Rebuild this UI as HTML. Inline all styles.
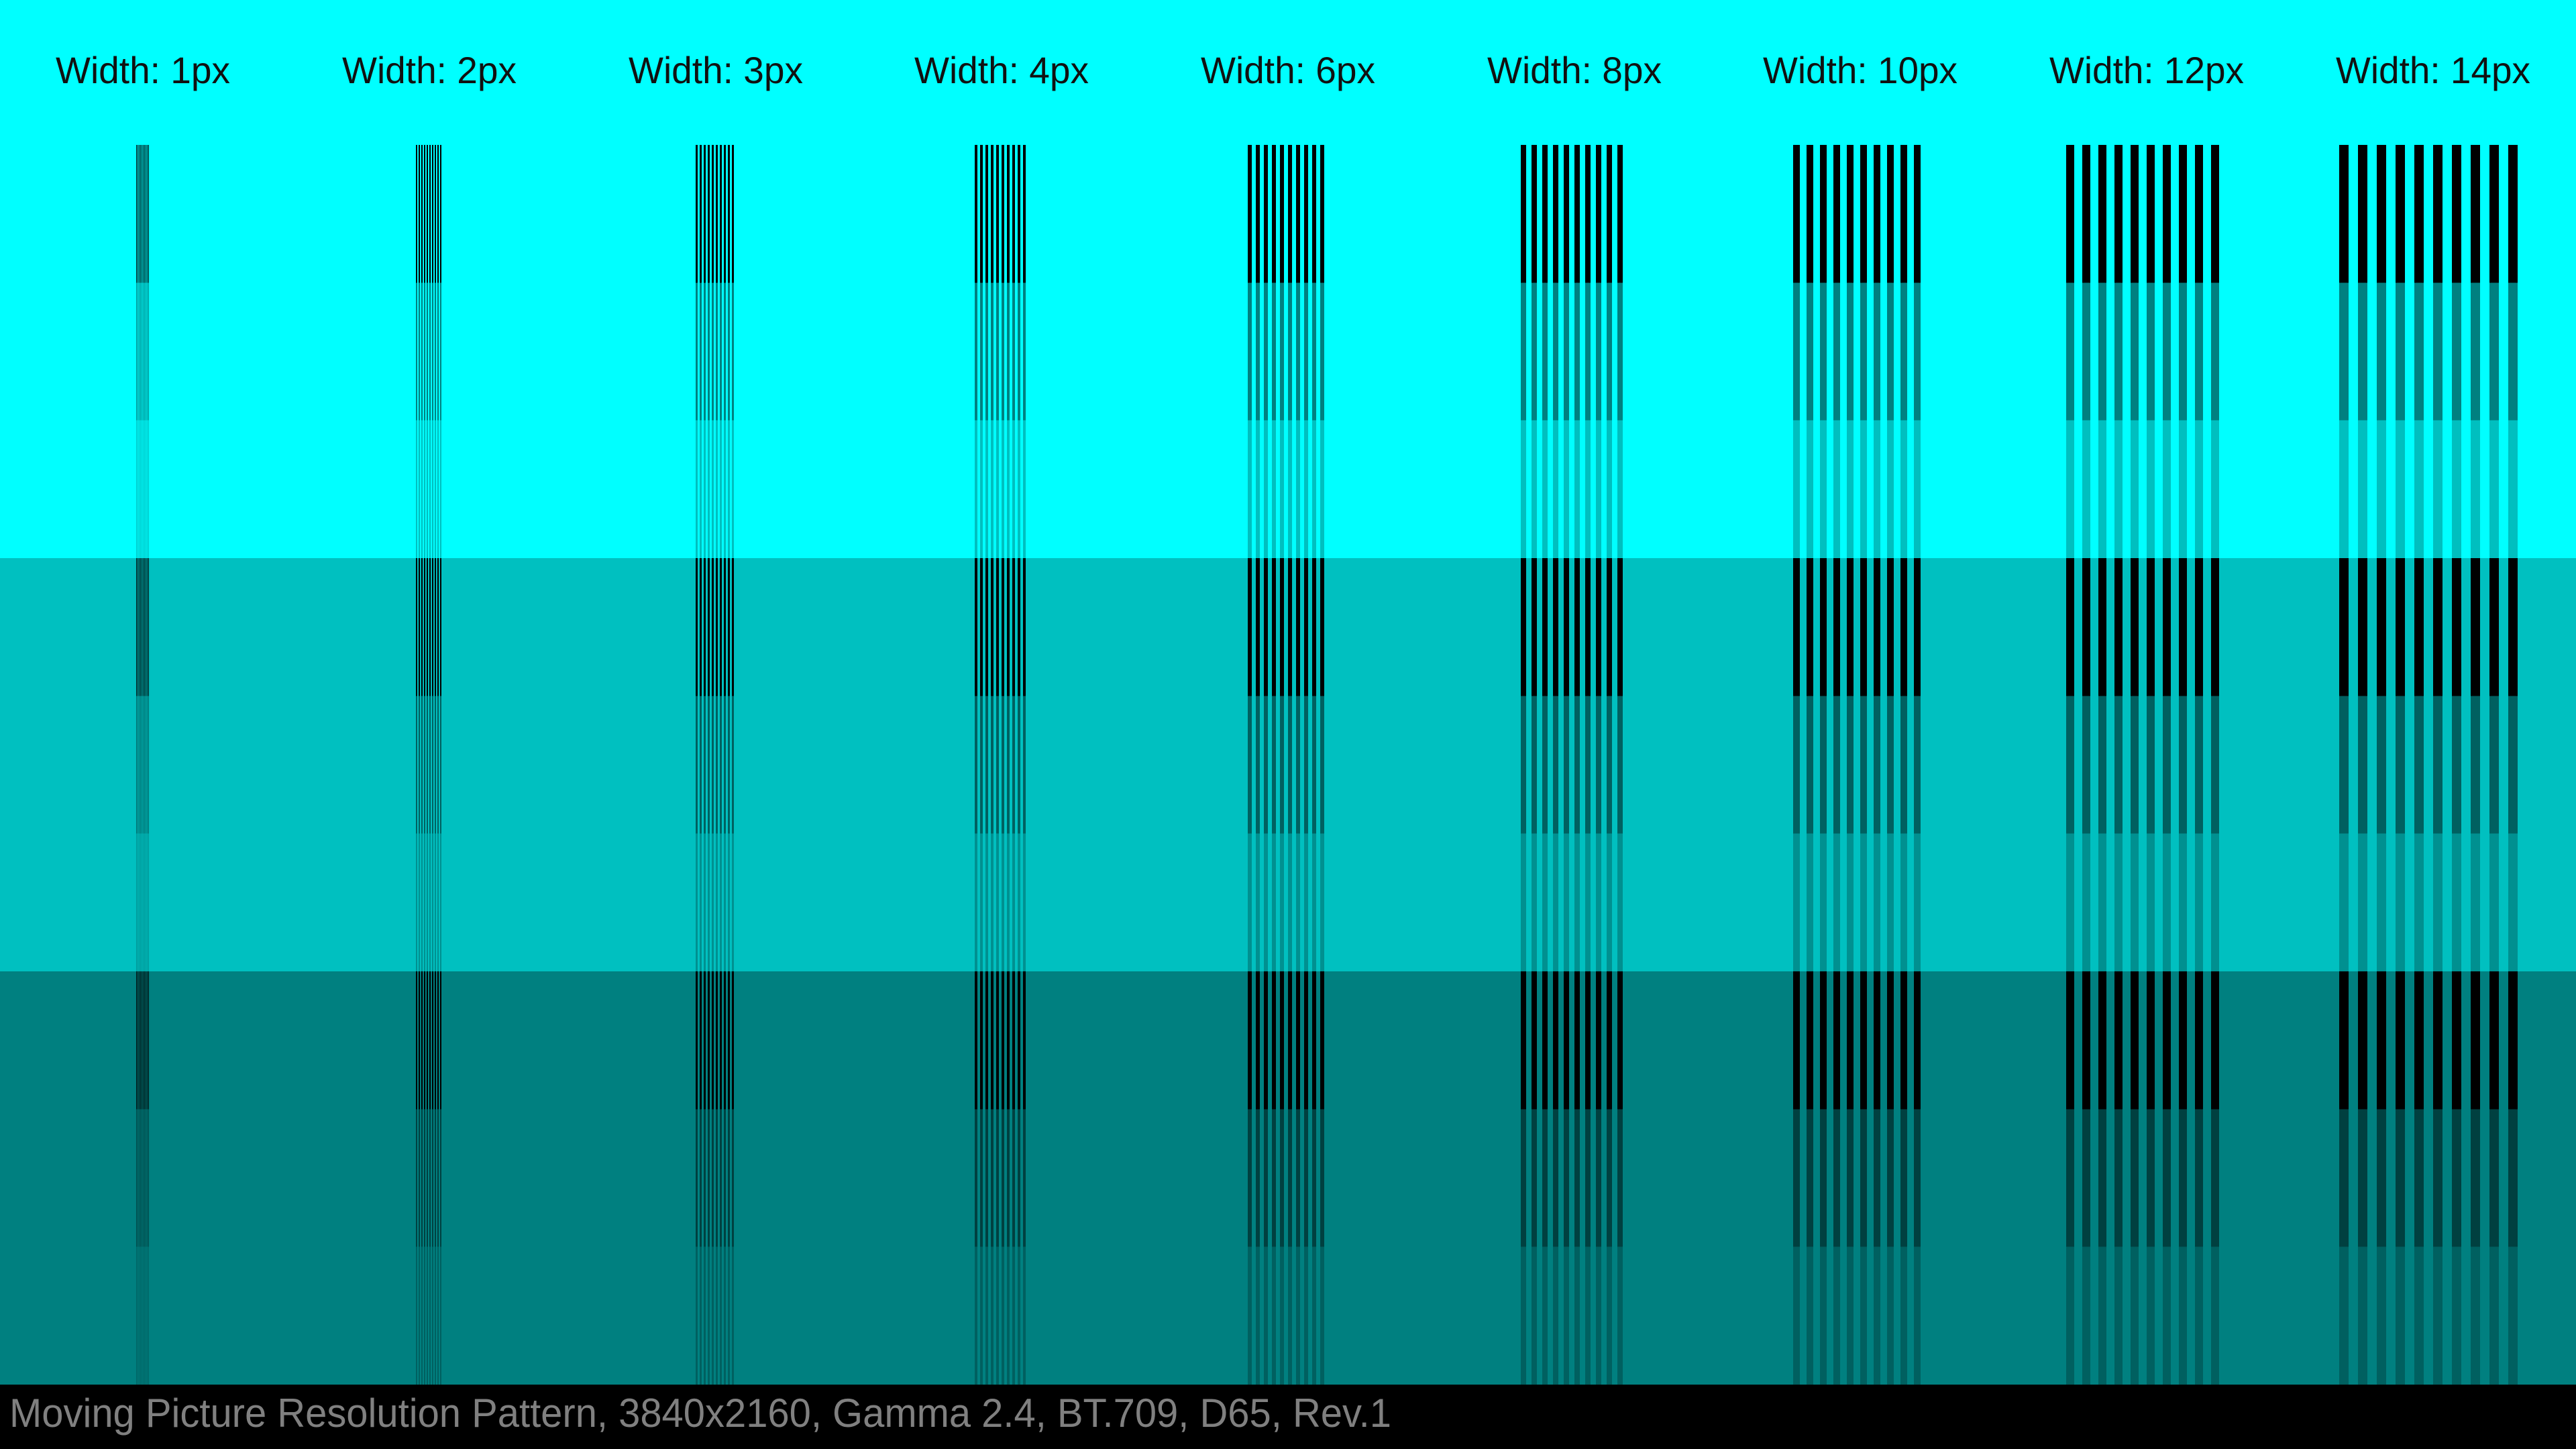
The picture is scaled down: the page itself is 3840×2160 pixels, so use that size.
<!DOCTYPE html>
<html><head><meta charset="utf-8"><style>
html,body{margin:0;padding:0;background:#000;}
svg{display:block;}
</style></head><body>
<svg id="chart" xmlns="http://www.w3.org/2000/svg" width="3840" height="2160" viewBox="0 0 3840 2160">
<rect x="0" y="0" width="3840" height="216" fill="#00ffff"/>
<g id="bands"></g>
<g id="groups"></g>
<g id="labels"></g>
<rect x="0" y="2064" width="3840" height="96" fill="#000"/>
<text x="14" y="2127" font-family="Liberation Sans, sans-serif" font-size="60" fill="#808080" textLength="2060" lengthAdjust="spacingAndGlyphs">Moving Picture Resolution Pattern, 3840x2160, Gamma 2.4, BT.709, D65, Rev.1</text>
</svg>
<script>
const lineWidths = [1, 2, 3, 4, 6, 8, 10, 12, 14];
const bandLevels = [255, 192, 128];
const lineLevelFactors = [0, 0.5, 0.75];
const lineCount = 10;

const NS = 'http://www.w3.org/2000/svg';
const W = 3840, top0 = 216, bandH = 616, subH = bandH / 3;
const colW = W / lineWidths.length;
function col(v){ const h = Math.round(v).toString(16).padStart(2,'0'); return '#00' + h + h; }
function bandY(i){ return top0 + i * bandH; }
function colCenter(i){ return Math.round((i + 0.5) * colW); }

const bandsG = document.getElementById('bands');
const groupsG = document.getElementById('groups');
const labelsG = document.getElementById('labels');

bandLevels.forEach((lvl, b) => {
  const r = document.createElementNS(NS, 'rect');
  
  
  r.setAttribute('x', 0); r.setAttribute('y', bandY(b));
  r.setAttribute('width', W); r.setAttribute('height', bandH);
  r.setAttribute('fill', col(lvl));
  bandsG.appendChild(r);
});

lineWidths.forEach((w, i) => {
  const c = colCenter(i);
  const left = c - 10 * w;
  const g = document.createElementNS(NS, 'g');
  
  
  groupsG.appendChild(g);
  bandLevels.forEach((lvl, b) => {
    lineLevelFactors.forEach((f, s) => {
      const y = bandY(b) + s * subH;
      for (let k = 0; k < lineCount; k++) {
        const r = document.createElementNS(NS, 'rect');
        
        
        r.setAttribute('x', left + 2 * k * w);
        r.setAttribute('y', y);
        r.setAttribute('width', w);
        r.setAttribute('height', subH + 0.5);
        r.setAttribute('fill', col(lvl * f));
        r.setAttribute('shape-rendering', 'crispEdges');
        g.appendChild(r);
      }
    });
  });
  const t = document.createElementNS(NS, 'text');
  
  
  t.setAttribute('x', c); t.setAttribute('y', 124);
  t.setAttribute('text-anchor', 'middle');
  t.setAttribute('font-family', 'Liberation Sans, sans-serif');
  t.setAttribute('font-size', '56');
  t.setAttribute('fill', '#111');
  t.setAttribute('textLength', w >= 10 ? 290 : 260);
  t.setAttribute('lengthAdjust', 'spacingAndGlyphs');
  t.textContent = 'Width: ' + w + 'px';
  labelsG.appendChild(t);
});
</script>
</body></html>
